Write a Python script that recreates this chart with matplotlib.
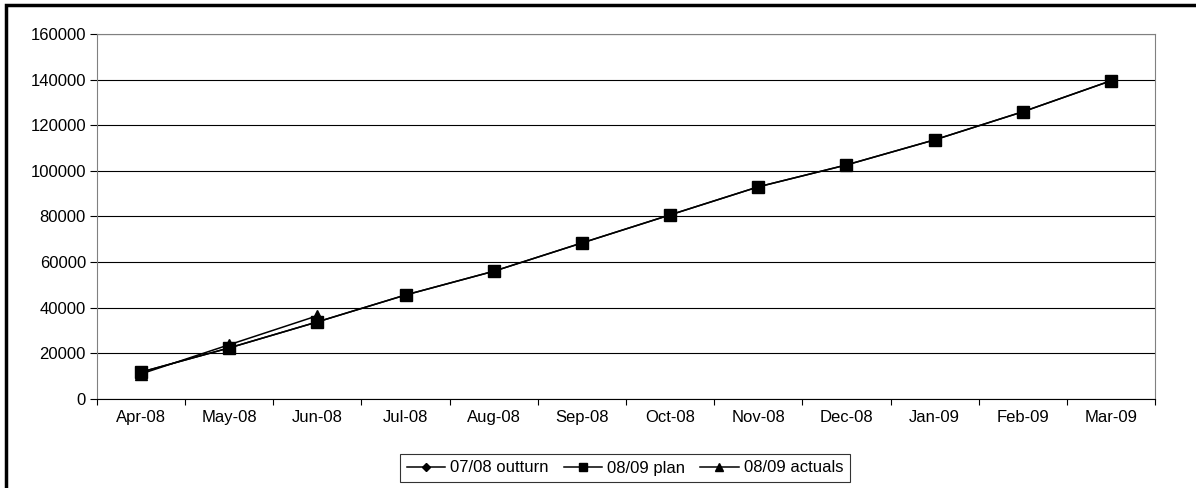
import numpy as np
import matplotlib.pyplot as plt
from matplotlib.patches import Rectangle

plt.rcParams['font.family'] = ['Liberation Sans', 'DejaVu Sans']

months = ['Apr-08', 'May-08', 'Jun-08', 'Jul-08', 'Aug-08', 'Sep-08',
          'Oct-08', 'Nov-08', 'Dec-08', 'Jan-09', 'Feb-09', 'Mar-09']
outturn_0708 = [11800, 22400, 33800, 45600, 56000, 68400,
                80700, 93000, 102600, 113600, 125900, 139500]
plan_0809 = [11800, 22400, 33800, 45600, 56000, 68400,
             80700, 93000, 102600, 113600, 125900, 139500]
actuals_0809 = [11000, 23800, 36500]

fig = plt.figure(figsize=(11.96, 4.88), dpi=100)
ax = fig.add_axes([97/1196, 1 - 399/488, (1155-97)/1196, (399-34)/488])

x = np.arange(len(months))
ax.plot(x, outturn_0708, color='black', lw=1.1, marker='D', ms=6, label='07/08 outturn')
ax.plot(x, plan_0809, color='black', lw=1.1, marker='s', ms=8.5, label='08/09 plan')
ax.plot(x[:len(actuals_0809)], actuals_0809, color='black', lw=1.1, marker='^', ms=9,
        label='08/09 actuals')

ax.set_xlim(-0.5, len(months) - 0.5)
ax.set_ylim(0, 160000)
ax.set_yticks(np.arange(0, 160001, 20000))
ax.set_yticklabels([str(v) for v in range(0, 160001, 20000)], fontsize=12)
ax.yaxis.grid(True, color='black', lw=0.8)
ax.set_axisbelow(True)

# categories centered, ticks between them
ax.set_xticks(np.arange(-0.5, len(months), 1))
ax.set_xticklabels([])
ax.set_xticks(x, minor=True)
ax.set_xticklabels(months, minor=True, fontsize=12)
ax.tick_params(axis='x', which='minor', length=0, pad=8)
ax.tick_params(axis='x', which='major', length=4, direction='out', color='black')
ax.tick_params(axis='y', length=5, direction='out', color='black', pad=3)

for side in ['top', 'right', 'left']:
    ax.spines[side].set_color('#808080')
ax.spines['bottom'].set_color('black')

leg = fig.legend(loc='center', bbox_to_anchor=(625/1196, 1 - 468/488), ncol=3,
                 fontsize=12, frameon=True, fancybox=False, edgecolor='black',
                 handlelength=2.3, handletextpad=0.3, columnspacing=0.9,
                 borderpad=0.4, borderaxespad=0, markerscale=0.7)
leg.get_frame().set_linewidth(0.8)

# outer chart border (left and top visible)
fig.add_artist(Rectangle((6/1196, -0.1), 1.2, 1 - 5/488 + 0.1, transform=fig.transFigure,
                         fill=False, edgecolor='black', lw=2.5))

fig.savefig('out.png', dpi=100)
